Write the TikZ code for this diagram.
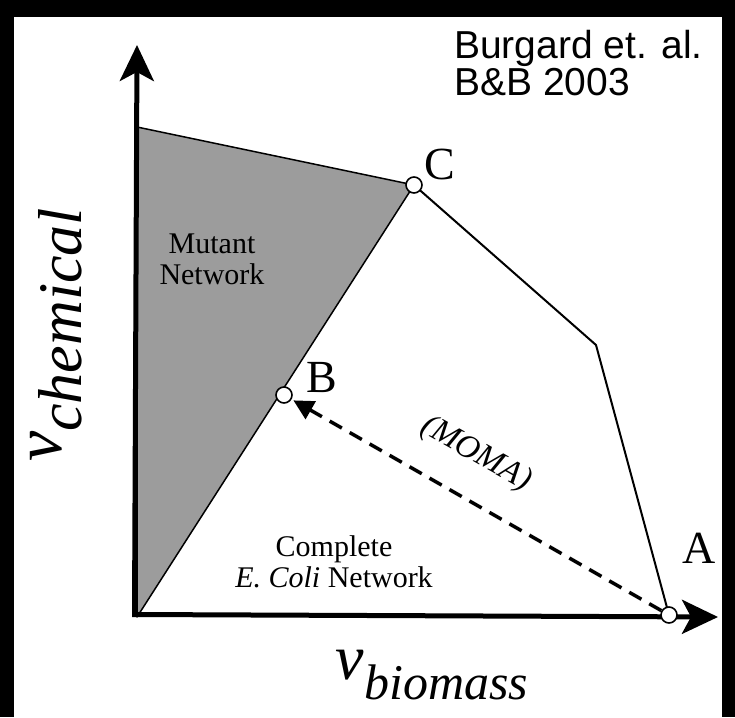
\documentclass[tikz,border=0pt]{standalone}
\usepackage{fontspec}
\setmainfont{Liberation Serif}
\newfontfamily\refsans{Liberation Sans}
\usetikzlibrary{arrows.meta}
\definecolor{shade}{HTML}{9C9C9C}
\begin{document}
\begin{tikzpicture}[x=1pt,y=-1pt,
  axisline/.style={line width=5pt,-{Stealth[length=36pt,width=34pt,inset=9pt]}},
  edge/.style={line width=2pt,line join=round},
  vtx/.style={circle,draw,fill=white,line width=1.6pt,minimum size=16pt,inner sep=0pt},
  ptlabel/.style={font=\fontsize{46}{50}\selectfont,inner sep=0pt},
  regiontext/.style={font=\fontsize{30}{31}\selectfont,align=center,inner sep=0pt},
  refnote/.style={font=\refsans\fontsize{39}{39}\selectfont,anchor=base west,inner sep=0pt},
  moma/.style={dashed,dash pattern=on 14pt off 9pt,line width=3.5pt,shorten >=2pt,-{Triangle[length=20pt,width=20pt]}}
]
\fill[black] (0,0) rectangle (735,717);
\fill[white] (14,17) rectangle (722,717);
\useasboundingbox (0,0) rectangle (735,717);

\coordinate (O) at (137,617);
\coordinate (Ytip) at (137,45);
\coordinate (Xtip) at (718,617);
\coordinate (T) at (137,127);
\coordinate (Cp) at (414,185);
\coordinate (K) at (596,345);
\coordinate (Ap) at (669,615);
\coordinate (Bp) at (284,395);

\filldraw[fill=shade,draw=black,edge,line width=1.5pt] (O) -- (T) -- (Cp) -- cycle;
\draw[edge] (Cp) -- (K) -- (Ap);

\draw[axisline] ([xshift=-2.5pt]O) -- (Ytip);
\draw[axisline] ([yshift=2.5pt]O) -- (Xtip);

\node[vtx] (A) at (Ap) {};
\node[vtx] (B) at (Bp) {};
\node[vtx] (C) at (Cp) {};

\draw[moma] (A) -- (B);
\node[font=\fontsize{33}{35}\selectfont\itshape,rotate=-29.5,inner sep=0pt] (momalbl) at (476,454) {(MOMA)};

\node[ptlabel] (la) at (699,548) {A};
\node[ptlabel] (lb) at (322,378) {B};
\node[ptlabel] (lc) at (440,164) {C};

\node[regiontext] (mutant) at (212,259) {Mutant\\Network};
\node[regiontext] (complete) at (334,562) {Complete\\\textit{E. Coli} Network};

\node[refnote] (ref1) at (454,59) {Burgard et. al.};
\node[refnote] (ref2) at (454,95) {B\&B 2003};

\node[rotate=90,inner sep=0pt] (vchem) at (56,335) {\fontsize{68}{68}\selectfont\itshape v\raisebox{-0.3em}{\fontsize{62}{62}\selectfont chemical}};
\node[inner sep=0pt] (vbio) at (432,675) {\fontsize{64}{64}\selectfont\itshape v\raisebox{-0.3em}{\fontsize{50}{50}\selectfont biomass}};
\end{tikzpicture}
\end{document}
